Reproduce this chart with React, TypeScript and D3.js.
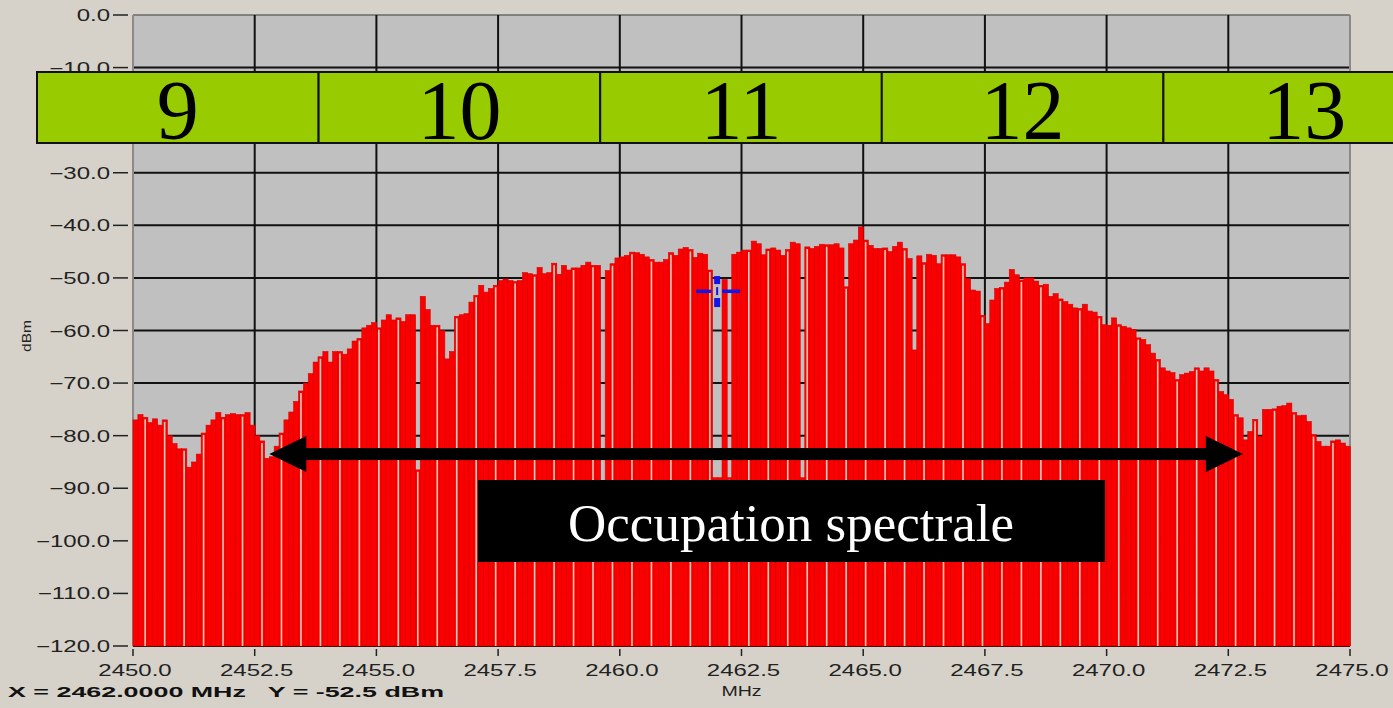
import React from "react";
import * as d3 from "d3";

// Spectrum levels (dBm), one per 0.1 MHz bin starting at 2450.0 MHz
const levels: number[] = [
  -77, -76, -76.5, -77.5, -76.8, -78, -77, -80, -81.5, -82.5,
  -82.5, -86, -85, -83.5, -79.5, -78, -77, -75.6, -76.5, -76,
  -75.8, -76, -76, -75.6, -78, -80, -81, -84.3, -84, -82,
  -79.5, -77, -75.5, -73.5, -71.5, -70, -68.2, -66, -65, -64,
  -66, -64, -64, -64.5, -63.5, -62, -61.5, -59.5, -59, -58.5,
  -59.5, -58, -57, -58, -57.6, -58.3, -57, -57, -86.5, -53.5,
  -56, -59, -59, -60, -65.4, -64, -57.3, -57, -56.8, -54.6,
  -53.3, -51.4, -52.7, -52, -51.4, -50.5, -50.2, -50.5, -50.7, -50.5,
  -49, -49.2, -49.4, -48, -49.2, -49, -47.2, -49.3, -47.6, -48.5,
  -48.1, -48.1, -47.6, -47, -47.6, -47.6, -88.5, -48.6, -47.3, -46.2,
  -46, -45.7, -45.1, -45.2, -45.5, -46, -46.5, -47, -47, -46.5,
  -45.2, -45.7, -44.5, -44.2, -44.6, -46.1, -45.3, -45.5, -48.5, -88,
  -88, -50.3, -88, -45.5, -45.1, -44.7, -44.7, -43, -43.5, -45.6,
  -44.5, -44.3, -44.7, -45.7, -44.6, -43.2, -43.5, -88, -44.1, -44.4,
  -44, -43.6, -43.7, -43.7, -43.5, -44.3, -51.7, -43.5, -42.8, -40.3,
  -42.8, -43.8, -44.4, -44.4, -44.3, -45, -44, -43.2, -44.4, -46.3,
  -63.7, -45.8, -47.1, -45.5, -45.7, -47.3, -45.6, -45.6, -45.6, -46,
  -47.3, -50.1, -52.3, -52.5, -57.1, -58.7, -54.2, -52, -51.8, -50.8,
  -48.4, -49.4, -50.4, -50, -50, -50.6, -51.4, -51.2, -53.5, -53,
  -54, -54.5, -55, -55.7, -55.8, -55, -56.3, -56.5, -57.3, -58.9,
  -59, -57.6, -58.9, -59.2, -59.5, -59.8, -61.4, -61.7, -62.7, -64.3,
  -65.5, -67.1, -67.7, -68, -69.3, -68.4, -68.1, -67.8, -67.1, -67.7,
  -67.1, -67.7, -69.3, -71.6, -72.2, -73.1, -76, -76.6, -80.8, -79.2,
  -76.9, -80.1, -75, -75, -74.9, -74.4, -74.3, -73.8, -75.6, -76.2,
  -76.1, -77.3, -79.8, -81.1, -82, -82, -81, -80.8, -81.4, -82,
];

const yTicks: number[] = [0, -10, -20, -30, -40, -50, -60, -70, -80, -90, -100, -110, -120];
const xTicks: number[] = [2450, 2452.5, 2455, 2457.5, 2460, 2462.5, 2465, 2467.5, 2470, 2472.5, 2475];
const channels: string[] = ["9", "10", "11", "12", "13"];
const cursorText = "X = 2462.0000 MHz   Y = -52.5 dBm";
const cursorFreq = 2462.0;
const cursorLevel = -52.5;
const bandLabel = "Occupation spectrale";
const bandArrow: number[] = [2452.8, 2472.8];
const bandArrowLevel = -83.5;

const W = 1393;
const H = 708;
const BIN = 0.1;

export default function App() {
  const x = d3.scaleLinear().domain([2450, 2475]).range([133, 1350]);
  const y = d3.scaleLinear().domain([0, -120]).range([15, 646]);
  const fmt = d3.format(".1f");
  const bottom = y(-120);
  const axisFont = "'Liberation Sans', Arial, sans-serif";
  const serif = "'Liberation Serif', 'Times New Roman', serif";

  const cx = x(cursorFreq);
  const cy = y(cursorLevel);

  const ax0 = x(bandArrow[0]);
  const ax1 = x(bandArrow[1]);
  const ay = y(bandArrowLevel);

  const cellX0 = 37;
  const cellW = 281.6;

  return (
    <svg width={W} height={H} style={{ position: "fixed", left: 0, top: 0, display: "block" }}>
      <rect x={0} y={0} width={W} height={H} fill="#d6d2ca" />
      <rect x={x(2450)} y={y(0)} width={x(2475) - x(2450)} height={bottom - y(0)} fill="#c0c0c0" />

      {/* grid */}
      {yTicks.map((t) => (
        <line key={"gy" + t} x1={x(2450)} x2={x(2475)} y1={y(t)} y2={y(t)}
          stroke={t === 0 ? "#6a6a6a" : "#111"} strokeWidth={t === 0 ? 1.5 : 2} />
      ))}
      {xTicks.map((t) => (
        <line key={"gx" + t} x1={x(t)} x2={x(t)} y1={y(0)} y2={bottom}
          stroke={t === 2450 || t === 2475 ? "#8a8a8a" : "#111"} strokeWidth={2} />
      ))}

      {/* bars */}
      {levels.map((v, i) => {
        const f = 2450 + i * BIN;
        const x0 = x(f);
        const x1 = x(f + BIN);
        return (
          <rect key={"b" + i} x={x0} y={y(v)} width={x1 - x0 + 0.3} height={bottom - y(v)}
            fill="#fb0000" stroke="#d80000" strokeWidth={0.6} />
        );
      })}
      {levels.map((v, i) => {
        if (i % 4 !== 2) return null;
        const f = 2450 + i * BIN + BIN / 2;
        return (
          <line key={"s" + i} x1={x(f)} x2={x(f)} y1={y(v) + 2} y2={bottom}
            stroke="#ffc9b8" strokeWidth={1.6} />
        );
      })}

      {/* y axis */}
      {yTicks.map((t) => (
        <g key={"ty" + t}>
          <line x1={113} x2={128} y1={y(t)} y2={y(t)} stroke="#222" strokeWidth={1.5} />
          <text transform={`translate(110,${y(t) + 6}) scale(1.5,1)`} textAnchor="end"
            fontFamily={axisFont} fontSize={16} fill="#222">{fmt(t)}</text>
        </g>
      ))}
      {/* x axis */}
      {xTicks.map((t) => (
        <g key={"tx" + t}>
          <line x1={x(t)} x2={x(t)} y1={bottom + 3} y2={bottom + 10} stroke="#222" strokeWidth={1.5} />
          <text transform={`translate(${x(t) + 2},${bottom + 30}) scale(1.5,1)`} textAnchor="middle"
            fontFamily={axisFont} fontSize={16} fill="#222">{fmt(t)}</text>
        </g>
      ))}
      <text transform={`translate(${x(2462.5)},${H - 12}) scale(1.4,1)`} textAnchor="middle"
        fontFamily={axisFont} fontSize={14} fill="#222">MHz</text>
      <text transform={`translate(31,${336}) rotate(-90) scale(1.2,1)`} textAnchor="middle"
        fontFamily={axisFont} fontSize={13} fill="#222">dBm</text>
      <text x={8} y={697} fontFamily={axisFont} fontSize={15} fontWeight="bold" fill="#111"
        textLength={436} lengthAdjust="spacingAndGlyphs" style={{ whiteSpace: "pre" }}>{cursorText}</text>

      {/* cursor */}
      <g fill="#1414e6" stroke="none">
        <rect x={cx - 21} y={cy - 1.5} width={15} height={3.5} />
        <rect x={cx + 5} y={cy - 1.5} width={18} height={3.5} />
        <rect x={cx - 1} y={cy - 4} width={2} height={8} />
        <rect x={cx - 3} y={cy - 15} width={6} height={8} />
        <rect x={cx - 3} y={cy + 7} width={6} height={9} />
      </g>

      {/* channel overlay */}
      {channels.map((c, i) => (
        <g key={"ch" + c}>
          <rect x={cellX0 + i * cellW} y={72} width={cellW} height={71} fill="#99cc00" stroke="#111" strokeWidth={2} />
          <text x={cellX0 + i * cellW + cellW / 2} y={139} textAnchor="middle" fontFamily={serif}
            fontSize={84} fill="#000">{c}</text>
        </g>
      ))}

      {/* band arrow */}
      <g fill="#000">
        <rect x={ax0 + 30} y={ay - 6} width={ax1 - ax0 - 60} height={12} />
        <path d={`M${ax0},${ay} L${ax0 + 37},${ay - 18} L${ax0 + 37},${ay + 18} Z`} />
        <path d={`M${ax1},${ay} L${ax1 - 37},${ay - 18} L${ax1 - 37},${ay + 18} Z`} />
      </g>
      <rect x={478} y={480} width={627} height={82} fill="#000" />
      <text x={791} y={541} textAnchor="middle" fontFamily={serif} fontSize={53} fill="#fff">{bandLabel}</text>
    </svg>
  );
}
